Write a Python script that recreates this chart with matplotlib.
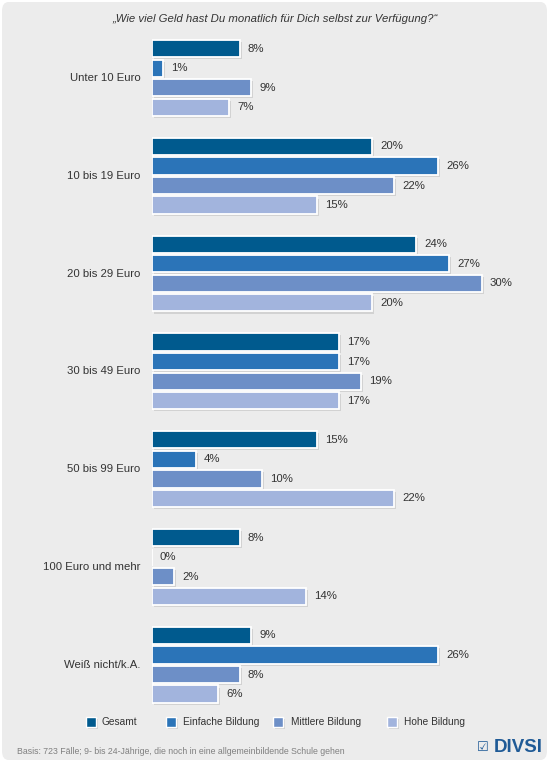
import matplotlib
matplotlib.use("Agg")
import matplotlib.pyplot as plt
import matplotlib.patheffects as pe
from matplotlib.patches import FancyBboxPatch, Rectangle

plt.rcParams['font.family'] = ['Liberation Sans', 'DejaVu Sans']

title = "„Wie viel Geld hast Du monatlich für Dich selbst zur Verfügung?“"
categories = ["Unter 10 Euro", "10 bis 19 Euro", "20 bis 29 Euro", "30 bis 49 Euro",
              "50 bis 99 Euro", "100 Euro und mehr", "Weiß nicht/k.A."]
series_names = ["Gesamt", "Einfache Bildung", "Mittlere Bildung", "Hohe Bildung"]
gesamt = [8, 20, 24, 17, 15, 8, 9]
einfache = [1, 26, 27, 17, 4, 0, 26]
mittlere = [9, 22, 30, 19, 10, 2, 8]
hohe = [7, 15, 20, 17, 22, 14, 6]
footer = "Basis: 723 Fälle; 9- bis 24-Jährige, die noch in eine allgemeinbildende Schule gehen"
logo = "DIVSI"

series = [gesamt, einfache, mittlere, hohe]
colors = ["#005a8e", "#2b74b8", "#6d8fc7", "#a2b4dd"]

W, H = 550, 762
fig = plt.figure(figsize=(W / 100, H / 100), dpi=100)
fig.patch.set_facecolor("white")

# background panel
panel = FancyBboxPatch((2 / W, 2 / H), (W - 5) / W, (H - 4) / H,
                       boxstyle="round,pad=0,rounding_size=0.012",
                       transform=fig.transFigure, facecolor="#ececec",
                       edgecolor="none", zorder=-5)
fig.patches.append(panel)

# axes: x from pixel 152 to 540, 11 px per percent
ax_left, ax_right = 152, 540
ax_top, ax_bot = 30, 715
ax = fig.add_axes([ax_left / W, 1 - ax_bot / H, (ax_right - ax_left) / W, (ax_bot - ax_top) / H])
ax.set_facecolor("none")
ax.set_zorder(2)
px_per_pct = 11.0
ax.set_xlim(0, (ax_right - ax_left) / px_per_pct)
bar_pitch = 19.56
y0 = 48.6
ax.set_ylim((ax_bot - y0) / bar_pitch, (ax_top - y0) / bar_pitch)
ax.axis("off")

shadow = [pe.SimplePatchShadow(offset=(1.5, -1.5), shadow_rgbFace="#888888", alpha=0.25), pe.Normal()]

for j, (vals, col) in enumerate(zip(series, colors)):
    ys = [i * 5 + j for i in range(len(categories))]
    bars = ax.barh(ys, vals, height=0.88, color=col, edgecolor="white", linewidth=1.3, zorder=3)
    for b in bars:
        if b.get_width() > 0:
            b.set_path_effects(shadow)
    for y, v in zip(ys, vals):
        ax.text(v + 8 / px_per_pct, y, f"{v}%", ha="left", va="center",
                fontsize=8.2, color="#333333", zorder=4)

for i, c in enumerate(categories):
    ax.text(-11.5 / px_per_pct, i * 5 + 1.5, c, ha="right", va="center",
            fontsize=8.2, color="#333333", clip_on=False)

fig.text(275 / W, 1 - 19 / H, title, ha="center", va="center", fontsize=8.2,
         style="italic", color="#333333")

# legend
sq_x = [86, 166, 273, 387]
txt_x = [102, 183, 291, 404]
ly = 722
for name, col, sx, tx in zip(series_names, colors, sq_x, txt_x):
    r = Rectangle((sx / W, 1 - (ly + 5) / H), 10 / W, 10 / H, transform=fig.transFigure,
                  facecolor=col, edgecolor="white", linewidth=1.0, zorder=1)
    r.set_path_effects(shadow)
    fig.patches.append(r)
    fig.text(tx / W, 1 - ly / H, name, ha="left", va="center", fontsize=7.3, color="#333333")

fig.text(17.5 / W, 1 - 751 / H, footer, ha="left", va="center", fontsize=6.35, color="#808080")

# logo
logo_col = "#1f5a96"
fig.text(543 / W, 1 - 747 / H, logo, ha="right", va="center", fontsize=13.5,
         fontweight="bold", color=logo_col)
fig.text(489 / W, 1 - 747 / H, "☑", ha="right", va="center", fontsize=9.5,
         color=logo_col, family="DejaVu Sans", fontweight="bold")

fig.savefig("out.png", dpi=100, facecolor="white")
